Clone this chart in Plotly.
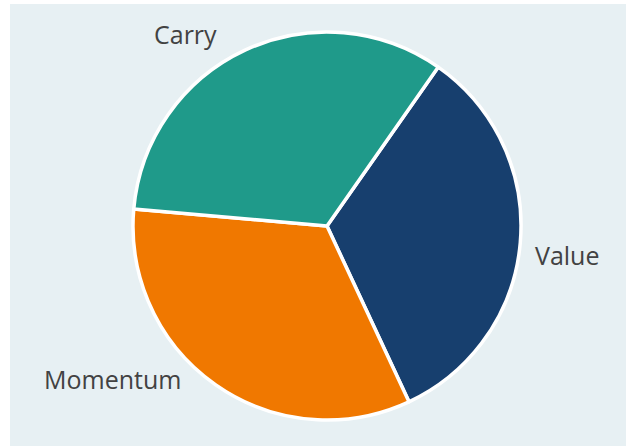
import plotly.graph_objects as go

categories = ["Value", "Momentum", "Carry"]
weights = [1/3, 1/3, 1/3]
colors = ["#173f6e", "#f07800", "#1f9a8a"]

W, H = 626, 446
cx, cy, r = 327, 226, 194

fig = go.Figure(go.Pie(
    labels=categories,
    values=weights,
    sort=False,
    direction="clockwise",
    rotation=35,
    marker=dict(colors=colors, line=dict(color="white", width=3.5)),
    textinfo="none",
    hoverinfo="label+percent",
    showlegend=False,
    domain=dict(x=[(cx - r) / W, (cx + r) / W], y=[(H - cy - r) / H, (H - cy + r) / H]),
))

label_pos = {"Carry": (186, 34), "Value": (567, 255), "Momentum": (112, 379)}
for name in categories:
    px, py = label_pos[name]
    fig.add_annotation(x=px / W, y=1 - py / H, xref="paper", yref="paper",
                       text=name, showarrow=False,
                       font=dict(family="Open Sans", size=25, color="#424242"),
                       xanchor="center", yanchor="middle")

fig.add_shape(type="rect", xref="paper", yref="paper", x0=10 / W, x1=1, y0=0, y1=1 - 4 / H,
              fillcolor="#e7f0f3", line=dict(width=0), layer="below")

fig.update_layout(width=W, height=H, margin=dict(l=0, r=0, t=0, b=0),
                  paper_bgcolor="white", plot_bgcolor="white")
fig.write_html("out.html", config={"displayModeBar": False},
               post_script="document.body.style.margin='0';")
